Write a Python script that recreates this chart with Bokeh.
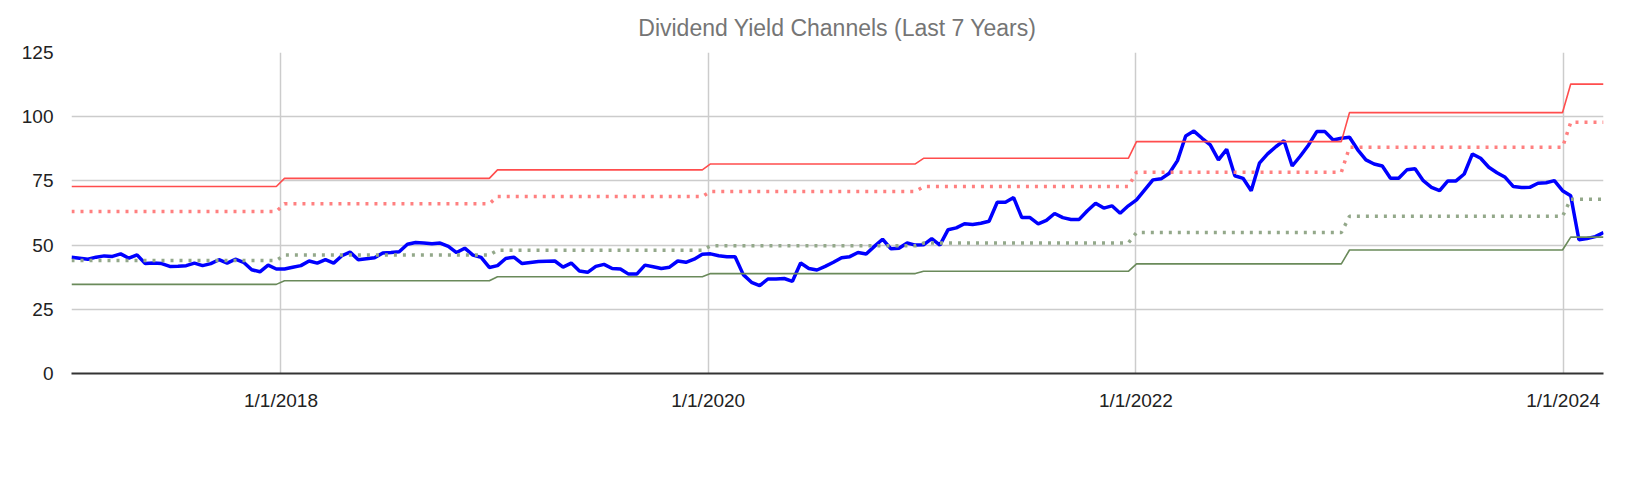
import pandas as pd
from bokeh.plotting import figure
from bokeh.models import Range1d, FixedTicker, Legend, LegendItem, Title
from bokeh.embed import file_html
from bokeh.resources import INLINE

start_date = "2017-01-08"
adm = [45.3, 44.9, 44.5, 45.3, 45.8, 45.6, 46.6, 44.9, 46.2, 42.8,
       43.0, 42.8, 41.7, 41.8, 42.0, 43.0, 42.0, 42.8, 44.3, 43.0,
       44.5, 43.3, 40.4, 39.6, 42.2, 40.7, 40.7, 41.4, 42.0, 43.8,
       43.0, 44.3, 43.0, 45.85, 47.3, 44.3, 44.7, 45.1, 46.9, 47.1,
       47.4, 50.3, 51.0, 50.8, 50.5, 50.8, 49.5, 47.1, 48.8, 46.1,
       45.2, 41.3, 42.0, 44.8, 45.3, 42.8, 43.2, 43.6, 43.7, 43.8,
       41.4, 43.0, 39.9,
       39.4, 41.7, 42.5, 40.9, 40.7, 38.7, 38.7, 42.2, 41.6, 40.9,
       41.4, 43.8, 43.3, 44.5, 46.4, 46.6, 45.85, 45.5, 45.5, 38.5,
       35.5, 34.2, 36.8, 36.8, 37.0, 35.9, 43.0, 40.9, 40.3, 41.7,
       43.3, 45.1, 45.5, 47.1, 46.5, 49.5, 52.3, 48.6, 48.8, 50.8,
       50.0, 50.1, 52.5, 50.0, 56.0, 56.7, 58.3, 58.0, 58.5, 59.3,
       66.7, 66.7, 68.5, 60.7, 60.7, 58.3, 59.6, 62.3, 60.7, 60.0,
       60.0, 63.4,
       66.3, 64.4, 65.3, 62.4, 65.3, 67.6, 71.5, 75.4, 75.8, 78.0,
       82.9, 92.5, 94.4, 91.6, 89.0, 83.2, 87.3, 77.0, 76.0, 71.2,
       81.9, 85.5, 88.3, 90.7, 80.8, 84.7, 89.0, 94.2, 94.2, 90.9,
       91.6, 92.0, 87.1, 83.2, 81.6, 80.8, 76.0, 76.0, 79.3, 79.7,
       75.1, 72.5, 71.2, 75.0, 75.0, 77.7, 85.5, 83.8, 80.3, 78.2,
       76.4, 72.8, 72.4, 72.5, 74.1,
       74.3, 75.1, 71.2, 69.2, 52.1, 52.6, 53.3, 54.9]

years = [2017, 2018, 2019, 2020, 2021, 2022, 2023, 2024]
overvalued = [72.8, 76.0, 79.3, 81.6, 83.8, 90.3, 101.6, 112.7]
pct75 = [63.1, 66.1, 68.9, 70.9, 72.8, 78.4, 88.1, 97.8]
pct25 = [44.0, 46.1, 48.0, 49.7, 50.8, 54.9, 61.2, 67.9]
undervalued = [34.7, 36.1, 37.7, 38.9, 39.8, 42.7, 48.1, 53.1]
tick_years = [2018, 2020, 2022, 2024]
y_ticks = [0, 25, 50, 75, 100, 125]

dates = pd.date_range(start_date, periods=len(adm), freq="14D")
yidx = {y: i for i, y in enumerate(years)}
def by_year(arr):
    return [arr[yidx[d.year]] for d in dates]

FONT = "Liberation Sans"
p = figure(frame_width=1532, frame_height=321, x_axis_type="datetime",
           output_backend="svg", toolbar_location=None,
           x_range=Range1d(dates[0], dates[-1]), y_range=Range1d(0, 125),
           min_border_left=71, min_border_right=12, min_border_top=10,
           min_border_bottom=4)
p.outline_line_color = None
p.add_layout(Title(text="Dividend Yield Channels (Last 7 Years)", align="center",
                   text_font=FONT, text_font_size="23px", text_font_style="normal",
                   text_color="#757575", standoff=24), "above")

r_adm = p.line(dates, adm, line_color="#0000ff", line_width=3.5)
r_ov = p.line(dates, by_year(overvalued), line_color="#ff4d4d", line_width=1.6)
r_un = p.line(dates, by_year(undervalued), line_color="#6a8a5a", line_width=1.6)
r_75 = p.line(dates, by_year(pct75), line_color="#ff8080", line_width=3.5, line_dash="3 6")
r_25 = p.line(dates, by_year(pct25), line_color="#93a88a", line_width=3.5, line_dash="3 6")

tick_ms = [pd.Timestamp(f"{y}-01-01").value / 1e6 for y in tick_years]
p.xaxis.ticker = FixedTicker(ticks=tick_ms)
p.xaxis.major_label_overrides = {t: f"1/1/{y}" for t, y in zip(tick_ms, tick_years)}
p.yaxis.ticker = FixedTicker(ticks=y_ticks)
for ax in (p.xaxis, p.yaxis):
    ax.major_tick_line_color = None
    ax.minor_tick_line_color = None
    ax.major_label_text_font = FONT
    ax.major_label_text_font_size = "19px"
    ax.major_label_text_color = "#222222"
p.xaxis.axis_line_color = "#333333"
p.xaxis.axis_line_width = 2
p.xaxis.major_label_standoff = 10
p.yaxis.axis_line_color = None
p.yaxis.major_label_standoff = 12
p.xgrid.grid_line_color = "#cccccc"
p.ygrid.grid_line_color = "#cccccc"
p.xgrid.grid_line_width = 1.5
p.ygrid.grid_line_width = 1.5

legend = Legend(items=[
    LegendItem(label="ADM", renderers=[r_adm]),
    LegendItem(label="Overvalued Yield", renderers=[r_ov]),
    LegendItem(label="Undervalued Yield", renderers=[r_un]),
    LegendItem(label="75th Percentile (25% to Overvalued)", renderers=[r_75]),
    LegendItem(label="25th Percentile (25% to Undervalued)", renderers=[r_25]),
], orientation="horizontal", location="center", border_line_color=None,
   label_text_font=FONT, label_text_font_size="19px", label_text_color="#222222",
   spacing=36, glyph_width=26, label_standoff=14, margin=6, padding=4)
p.add_layout(legend, "below")

open("out.html", "w").write(file_html(p, INLINE))
